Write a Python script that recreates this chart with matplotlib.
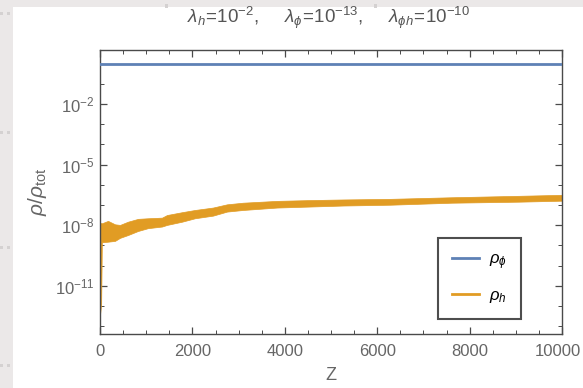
import numpy as np
import matplotlib.pyplot as plt
from matplotlib.lines import Line2D
from matplotlib.patches import Rectangle
from matplotlib.ticker import FixedLocator, FuncFormatter, NullFormatter
from matplotlib.transforms import ScaledTranslation

plt.rcParams['font.family'] = ['Liberation Sans', 'DejaVu Sans']
plt.rcParams['mathtext.fontset'] = 'custom'
plt.rcParams['mathtext.rm'] = 'Liberation Sans'
plt.rcParams['mathtext.it'] = 'Liberation Sans:italic'
plt.rcParams['mathtext.fallback'] = 'stixsans'

# dark-energy fraction stays flat near 1
z_phi = [0, 10000]
rho_phi = [0.95, 0.95]

# Higgs fraction: oscillating band, upper/lower envelope in log10
z_h = [0, 25, 40, 173, 325, 433, 606, 823, 1039, 1342, 1450, 1775, 2056,
       2446, 2749, 3095, 3831, 4545, 5260, 6277, 7619, 9048, 10000]
log_h_hi = [-7.90, -7.90, -7.91, -7.79, -7.96, -7.99, -7.83, -7.69, -7.66,
            -7.63, -7.50, -7.36, -7.25, -7.13, -6.97, -6.89, -6.80, -6.76,
            -6.73, -6.70, -6.62, -6.55, -6.50]
log_h_lo = [-12.45, -11.9, -8.85, -8.82, -8.78, -8.63, -8.49, -8.29, -8.15,
            -8.07, -7.99, -7.83, -7.66, -7.53, -7.33, -7.25, -7.13, -7.08,
            -7.03, -6.99, -6.89, -6.84, -6.79]

major_exp = [-11, -8, -5, -2]
minor_exp = list(range(-13, 1))

blue = '#5e81b5'
orange = '#e19c24'
grey_txt = '#666666'
frame_col = '#4a4a4a'

fig = plt.figure(figsize=(5.83, 3.88), dpi=100)
fig.patch.set_facecolor('#ebe8e8')
fig.add_artist(Rectangle((13 / 583, 0), 1, 1 - 7 / 388, transform=fig.transFigure,
                         facecolor='white', edgecolor='none', zorder=0))
# little handle marks on the gray margin
for yy in [13, 132, 247, 365]:
    for xx in [0, 7]:
        fig.add_artist(Rectangle((xx / 583, 1 - (yy + 2) / 388), 3 / 583, 3 / 388,
                                 transform=fig.transFigure, facecolor='#d4d1d1',
                                 edgecolor='none', zorder=0))
for xx in [165, 374]:
    fig.add_artist(Rectangle((xx / 583, 1 - 8 / 388), 3 / 583, 4 / 388,
                             transform=fig.transFigure, facecolor='#d4d1d1',
                             edgecolor='none', zorder=0))

ax = fig.add_axes([100 / 583, 1 - 334 / 388, 462 / 583, 284 / 388])
ax.set_facecolor('white')

hi = 10.0 ** np.array(log_h_hi)
lo = 10.0 ** np.array(log_h_lo)
ax.fill_between(z_h, lo, hi, color=orange, linewidth=0.5, edgecolor=orange, zorder=2)
ax.plot(z_phi, rho_phi, color=blue, lw=2.0, zorder=3)

ax.set_yscale('log')
ax.set_xlim(0, 10000)
ax.set_ylim(10 ** -13.39, 10 ** 0.67)

ax.xaxis.set_major_locator(FixedLocator(np.arange(0, 10001, 2000)))
ax.xaxis.set_minor_locator(FixedLocator(np.arange(0, 10001, 500)))
ax.yaxis.set_major_locator(FixedLocator([10.0 ** e for e in major_exp]))
ax.yaxis.set_minor_locator(FixedLocator([10.0 ** e for e in minor_exp]))
ax.yaxis.set_minor_formatter(NullFormatter())
ax.yaxis.set_major_formatter(FuncFormatter(
    lambda v, p: r'$10^{%d}$' % int(round(np.log10(v)))))
ax.xaxis.set_major_formatter(FuncFormatter(lambda v, p: '%d' % v))

ax.tick_params(which='both', direction='in', top=True, right=True,
               color=frame_col, labelcolor=grey_txt, labelsize=12)
ax.tick_params(which='major', length=5, width=0.9)
ax.tick_params(which='minor', length=3, width=0.7)
ax.tick_params(axis='x', pad=7)
ax.tick_params(axis='y', pad=4)
for s in ax.spines.values():
    s.set_color(frame_col)
    s.set_linewidth(1.0)

# pull the last x label in a little so it stays on the canvas
last = ax.xaxis.get_major_ticks()[-1].label1
last.set_transform(last.get_transform() + ScaledTranslation(-4 / 100, 0, fig.dpi_scale_trans))

ax.set_xlabel('Z', fontsize=13, color=grey_txt, labelpad=6)
ax.set_ylabel(r'$\rho/\rho_{\rm tot}$', fontsize=15, color=grey_txt, labelpad=4)

fig.text(328 / 583, 1 - 18 / 388,
         r'$\lambda_h\!=\!10^{-2}$,     $\lambda_\phi\!=\!10^{-13}$,     '
         r'$\lambda_{\phi h}\!=\!10^{-10}$',
         ha='center', va='center', fontsize=13.5, color='#555555')

handles = [Line2D([], [], color=blue, lw=2.0), Line2D([], [], color=orange, lw=2.0)]
leg = ax.legend(handles, [r'$\rho_\phi$', r'$\rho_h$'], loc='upper right',
                bbox_to_anchor=(0.911, 0.338), fontsize=12, frameon=True,
                fancybox=False, handlelength=1.6, handletextpad=0.6,
                labelspacing=0.95, borderpad=0.85, borderaxespad=0.0)
leg.get_frame().set_edgecolor('#222222')
leg.get_frame().set_linewidth(1.5)

fig.savefig('out.png', dpi=100, facecolor=fig.get_facecolor())
